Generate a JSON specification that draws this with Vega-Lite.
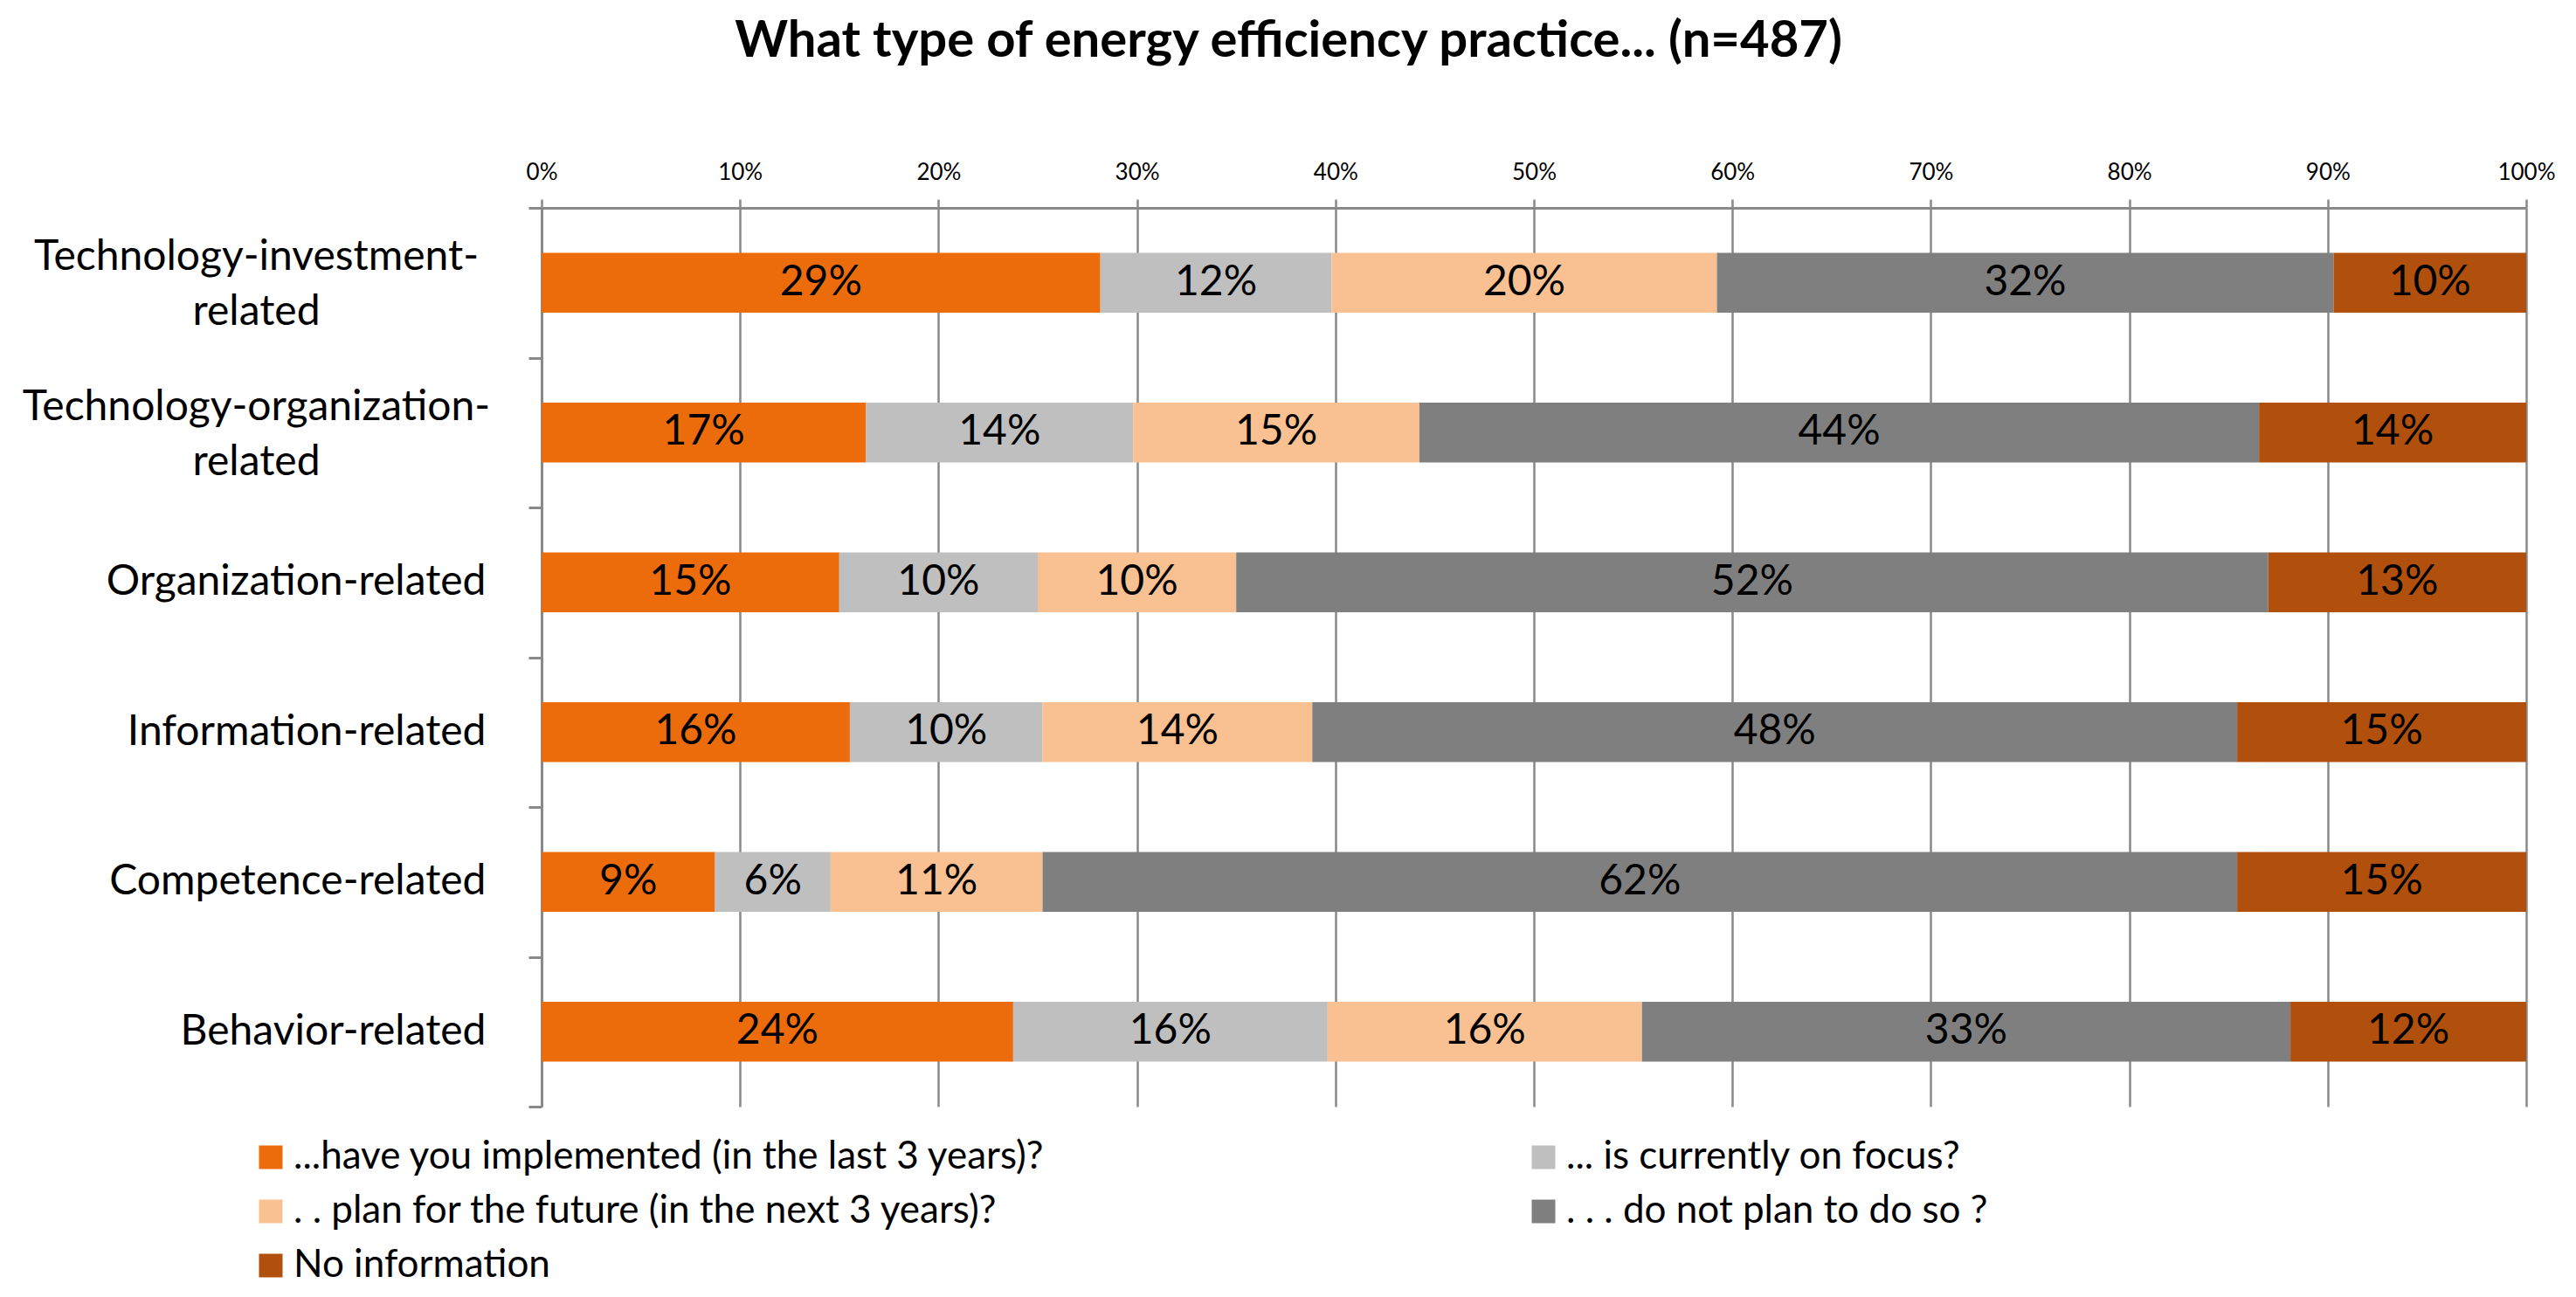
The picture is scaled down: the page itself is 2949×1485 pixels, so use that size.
{
  "$schema": "https://vega.github.io/schema/vega-lite/v6.json",
  "width": 2272,
  "height": 1029,
  "autosize": {"type": "none"},
  "padding": {"left": 620, "top": 238, "right": 57, "bottom": 218},
  "background": "white",
  "title": {
    "text": "What type of energy efficiency practice... (n=487)",
    "font": "Lato",
    "fontSize": 58,
    "fontWeight": "bold",
    "color": "black",
    "anchor": "middle",
    "frame": "group",
    "dx": -281,
    "baseline": "bottom",
    "offset": 49
  },
  "config": {
    "view": {"stroke": null},
    "font": "Lato"
  },
  "data": {
    "values": [
      {"category": "Technology-investment-related", "series": "...have  you implemented  (in the last 3 years)?", "k": 1, "value": 29, "label": "29%"},
      {"category": "Technology-investment-related", "series": "...  is currently on focus?", "k": 2, "value": 12, "label": "12%"},
      {"category": "Technology-investment-related", "series": ". .  plan  for the future (in the next 3 years)?", "k": 3, "value": 20, "label": "20%"},
      {"category": "Technology-investment-related", "series": ". . . do  not plan to do so ?", "k": 4, "value": 32, "label": "32%"},
      {"category": "Technology-investment-related", "series": "No information", "k": 5, "value": 10, "label": "10%"},
      {"category": "Technology-organization-related", "series": "...have  you implemented  (in the last 3 years)?", "k": 1, "value": 17, "label": "17%"},
      {"category": "Technology-organization-related", "series": "...  is currently on focus?", "k": 2, "value": 14, "label": "14%"},
      {"category": "Technology-organization-related", "series": ". .  plan  for the future (in the next 3 years)?", "k": 3, "value": 15, "label": "15%"},
      {"category": "Technology-organization-related", "series": ". . . do  not plan to do so ?", "k": 4, "value": 44, "label": "44%"},
      {"category": "Technology-organization-related", "series": "No information", "k": 5, "value": 14, "label": "14%"},
      {"category": "Organization-related", "series": "...have  you implemented  (in the last 3 years)?", "k": 1, "value": 15, "label": "15%"},
      {"category": "Organization-related", "series": "...  is currently on focus?", "k": 2, "value": 10, "label": "10%"},
      {"category": "Organization-related", "series": ". .  plan  for the future (in the next 3 years)?", "k": 3, "value": 10, "label": "10%"},
      {"category": "Organization-related", "series": ". . . do  not plan to do so ?", "k": 4, "value": 52, "label": "52%"},
      {"category": "Organization-related", "series": "No information", "k": 5, "value": 13, "label": "13%"},
      {"category": "Information-related", "series": "...have  you implemented  (in the last 3 years)?", "k": 1, "value": 16, "label": "16%"},
      {"category": "Information-related", "series": "...  is currently on focus?", "k": 2, "value": 10, "label": "10%"},
      {"category": "Information-related", "series": ". .  plan  for the future (in the next 3 years)?", "k": 3, "value": 14, "label": "14%"},
      {"category": "Information-related", "series": ". . . do  not plan to do so ?", "k": 4, "value": 48, "label": "48%"},
      {"category": "Information-related", "series": "No information", "k": 5, "value": 15, "label": "15%"},
      {"category": "Competence-related", "series": "...have  you implemented  (in the last 3 years)?", "k": 1, "value": 9, "label": "9%"},
      {"category": "Competence-related", "series": "...  is currently on focus?", "k": 2, "value": 6, "label": "6%"},
      {"category": "Competence-related", "series": ". .  plan  for the future (in the next 3 years)?", "k": 3, "value": 11, "label": "11%"},
      {"category": "Competence-related", "series": ". . . do  not plan to do so ?", "k": 4, "value": 62, "label": "62%"},
      {"category": "Competence-related", "series": "No information", "k": 5, "value": 15, "label": "15%"},
      {"category": "Behavior-related", "series": "...have  you implemented  (in the last 3 years)?", "k": 1, "value": 24, "label": "24%"},
      {"category": "Behavior-related", "series": "...  is currently on focus?", "k": 2, "value": 16, "label": "16%"},
      {"category": "Behavior-related", "series": ". .  plan  for the future (in the next 3 years)?", "k": 3, "value": 16, "label": "16%"},
      {"category": "Behavior-related", "series": ". . . do  not plan to do so ?", "k": 4, "value": 33, "label": "33%"},
      {"category": "Behavior-related", "series": "No information", "k": 5, "value": 12, "label": "12%"}
    ]
  },
  "transform": [
    {
      "stack": "value",
      "groupby": ["category"],
      "offset": "normalize",
      "sort": [{"field": "k", "order": "ascending"}],
      "as": ["v0", "v1"]
    },
    {"calculate": "(datum.v0 + datum.v1) / 2", "as": "mid"}
  ],
  "encoding": {
    "y": {
      "field": "category",
      "type": "nominal",
      "sort": [
        "Technology-investment-related",
        "Technology-organization-related",
        "Organization-related",
        "Information-related",
        "Competence-related",
        "Behavior-related"
      ],
      "scale": {"paddingInner": 0, "paddingOuter": 0},
      "axis": {
        "title": null,
        "tickBand": "extent",
        "domainColor": "#898989",
        "domainWidth": 3,
        "tickColor": "#898989",
        "tickWidth": 3,
        "tickSize": 15,
        "labelFont": "Lato",
        "labelFontSize": 48,
        "labelColor": "black",
        "labelLimit": 700,
        "labelLineHeight": 63,
        "labelExpr": "indexof(datum.label, 'Technology-') == 0 ? [replace(datum.label, 'related', ''), 'related'] : datum.label",
        "labelAlign": {"condition": {"test": "indexof(datum.label, 'Technology-') == 0", "value": "center"}, "value": "right"},
        "labelPadding": {"condition": {"test": "indexof(datum.label, 'Technology-') == 0", "value": 312}, "value": 49},
        "labelOffset": {"condition": {"test": "indexof(datum.label, 'Technology-') == 0", "value": -29}, "value": 0}
      }
    }
  },
  "layer": [
    {
      "mark": {"type": "bar", "height": {"band": 0.4}},
      "encoding": {
        "x": {
          "field": "v0",
          "type": "quantitative",
          "scale": {"domain": [0, 1], "nice": false},
          "axis": {
            "orient": "top",
            "title": null,
            "values": [0, 0.1, 0.2, 0.3, 0.4, 0.5, 0.6, 0.7, 0.8, 0.9, 1],
            "format": ".0%",
            "grid": true,
            "gridColor": "#898989",
            "gridWidth": 2.5,
            "domainColor": "#898989",
            "domainWidth": 3,
            "tickColor": "#898989",
            "tickWidth": 2.5,
            "tickSize": 10,
            "labelFont": "Lato",
            "labelFontSize": 26,
            "labelColor": "black",
            "labelPadding": 18,
            "labelFlush": false
          }
        },
        "x2": {"field": "v1"},
        "color": {
          "field": "series",
          "type": "nominal",
          "scale": {
            "domain": [
              "...have  you implemented  (in the last 3 years)?",
              "...  is currently on focus?",
              ". .  plan  for the future (in the next 3 years)?",
              ". . . do  not plan to do so ?",
              "No information"
            ],
            "range": ["#EC6C0C", "#BFBFBF", "#F9C192", "#7F7F7F", "#B1500C"]
          },
          "legend": {
            "title": null,
            "orient": "none",
            "direction": "horizontal",
            "legendX": -332,
            "legendY": 1065,
            "columns": 2,
            "columnPadding": 525,
            "rowPadding": 18,
            "padding": 0,
            "symbolType": "square",
            "symbolSize": 729,
            "symbolStrokeWidth": 0,
            "labelFont": "Lato",
            "labelFontSize": 44,
            "labelColor": "black",
            "labelOffset": 4,
            "labelLimit": 1200
          }
        }
      }
    },
    {
      "mark": {"type": "text", "font": "Lato", "fontSize": 48, "color": "black", "baseline": "middle", "align": "center"},
      "encoding": {
        "x": {"field": "mid", "type": "quantitative"},
        "text": {"field": "label"}
      }
    }
  ]
}
